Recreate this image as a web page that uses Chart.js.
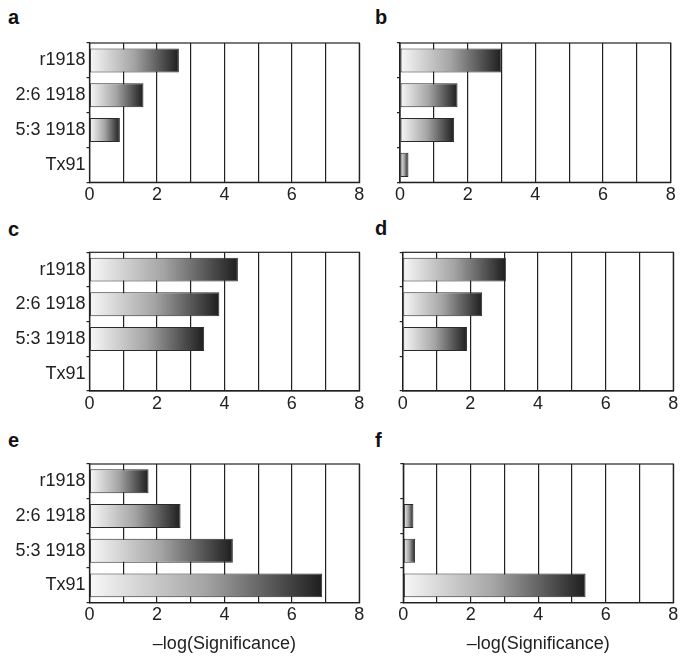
<!DOCTYPE html>
<html>
<head>
<meta charset="utf-8">
<script src="https://cdn.jsdelivr.net/npm/chart.js@4"></script>
<style>
  body { margin: 0; background: #fff; }
  #wrap { position: relative; width: 685px; height: 660px; }
  canvas { position: absolute; }
  .tag { position: absolute; font: bold 20px "Liberation Sans", Arial, sans-serif; line-height: 20px; color: #111; }
</style>
</head>
<body>
<div id="wrap">
  <div class="tag" style="left:8px;top:7px">a</div>
  <div class="tag" style="left:375px;top:7px">b</div>
  <div class="tag" style="left:8px;top:219px">c</div>
  <div class="tag" style="left:375px;top:218px">d</div>
  <div class="tag" style="left:8px;top:430px">e</div>
  <div class="tag" style="left:375px;top:430px">f</div>
  <canvas id="pa" width="372" height="178" style="left:0;top:30px"></canvas>
  <canvas id="pb" width="305" height="178" style="left:380px;top:30px"></canvas>
  <canvas id="pc" width="372" height="178" style="left:0;top:240px"></canvas>
  <canvas id="pd" width="305" height="178" style="left:380px;top:240px"></canvas>
  <canvas id="pe" width="372" height="207" style="left:0;top:452px"></canvas>
  <canvas id="pf" width="305" height="207" style="left:380px;top:452px"></canvas>
</div>
<script>
const categories = ['r1918', '2:6 1918', '5:3 1918', 'Tx91'];
const tickLabels = [0, 2, 4, 6, 8];
const panelA = [2.65, 1.6, 0.9, 0];
const panelB = [3.0, 1.7, 1.6, 0.25];
const panelC = [4.4, 3.85, 3.4, 0];
const panelD = [3.05, 2.35, 1.9, 0];
const panelE = [1.75, 2.7, 4.25, 6.9];
const panelF = [0, 0.3, 0.35, 5.4];
const axisTitle = '\u2013log(Significance)';

const ink = '#222';
const fontFam = '"Liberation Sans", Arial, sans-serif';

// white -> black gradient along each bar
function barFill(c) {
  const x = c.chart.scales.x;
  if (!x || c.type !== 'data') return '#888';
  const x0 = x.getPixelForValue(0);
  const x1 = x.getPixelForValue(c.raw);
  if (!isFinite(x0) || !isFinite(x1) || x1 - x0 < 1) return '#888';
  const g = c.chart.ctx.createLinearGradient(x0, 0, x1, 0);
  g.addColorStop(0, '#f8f8f8');
  g.addColorStop(0.5, '#a4a4a4');
  g.addColorStop(1, '#1e1e1e');
  return g;
}

const frame = {
  id: 'frame',
  afterDraw(chart) {
    const a = chart.chartArea, ctx = chart.ctx;
    ctx.save();
    ctx.strokeStyle = ink;
    ctx.lineWidth = 1.2;
    ctx.strokeRect(a.left, a.top, a.right - a.left, a.bottom - a.top);
    ctx.restore();
  }
};

function panel(id, values, p) {
  new Chart(document.getElementById(id), {
    type: 'bar',
    data: {
      labels: categories,
      datasets: [{
        data: values,
        backgroundColor: barFill,
        borderColor: '#2a2a2a',
        borderWidth: 1,
        borderSkipped: false,
        barPercentage: 0.69,
        categoryPercentage: 1
      }]
    },
    plugins: [frame],
    options: {
      indexAxis: 'y',
      responsive: false,
      animation: false,
      layout: { padding: { top: p.padTop, right: p.padRight, left: 0, bottom: 0 } },
      plugins: { legend: { display: false }, tooltip: { enabled: false } },
      scales: {
        x: {
          min: 0,
          max: 8,
          ticks: {
            stepSize: 1,
            padding: 2,
            color: ink,
            font: { family: fontFam, size: 18 },
            maxRotation: 0,
            callback: v => tickLabels.includes(v) ? String(v) : ''
          },
          grid: { color: ink, lineWidth: 1.2, drawTicks: false },
          border: { color: ink, width: 1.2 },
          title: {
            display: !!p.title,
            text: axisTitle,
            color: ink,
            font: { family: fontFam, size: 18 }
          },
          afterFit(s) { s.height = p.xHeight; }
        },
        y: {
          ticks: {
            display: p.yLabels,
            padding: 1,
            color: ink,
            font: { family: fontFam, size: 18 }
          },
          grid: { color: ink, lineWidth: 1.2, drawOnChartArea: false, drawTicks: true, tickLength: 3, offset: true },
          border: { color: ink, width: 1.2 },
          afterFit(s) { s.width = p.yWidth; }
        }
      }
    }
  });
}

panel('pa', panelA, { yLabels: true, yWidth: 89.5, padRight: 12.7, padTop: 13, xHeight: 25.7 });
panel('pb', panelB, { yLabels: false, yWidth: 20, padRight: 14.3, padTop: 13, xHeight: 25.7 });
panel('pc', panelC, { yLabels: true, yWidth: 89.5, padRight: 12.7, padTop: 12.3, xHeight: 27 });
panel('pd', panelD, { yLabels: false, yWidth: 22.7, padRight: 11.7, padTop: 12.3, xHeight: 27 });
panel('pe', panelE, { yLabels: true, yWidth: 89.5, padRight: 12.7, padTop: 12, xHeight: 56.3, title: true });
panel('pf', panelF, { yLabels: false, yWidth: 23.3, padRight: 11.7, padTop: 12, xHeight: 56.3, title: true });
</script>
</body>
</html>
